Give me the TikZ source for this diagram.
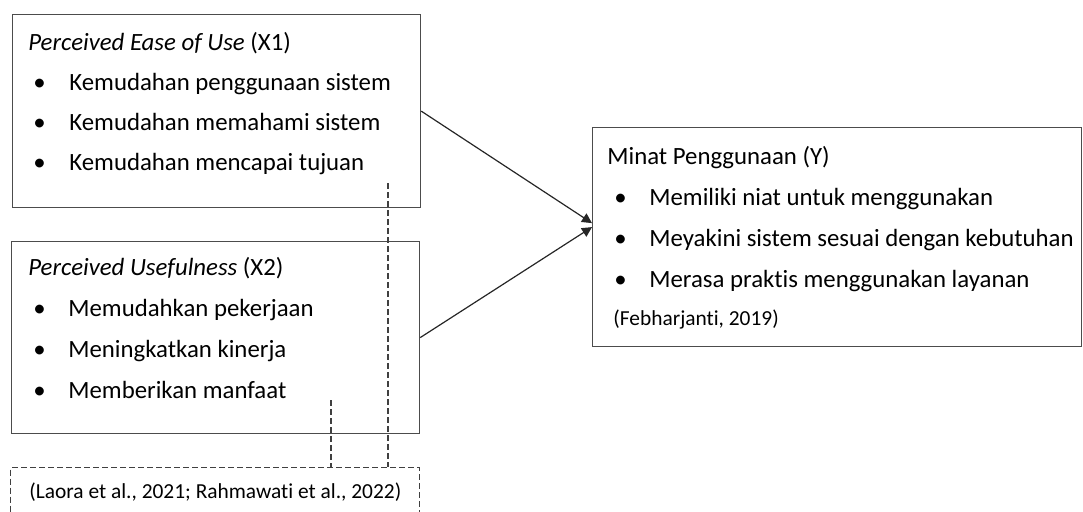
\documentclass[tikz,border=0pt]{standalone}
\usepackage{fontspec}
\setmainfont{Carlito}[Ligatures=NoCommon]
\usetikzlibrary{arrows.meta}
\begin{document}
\begin{tikzpicture}[x=0.5pt,y=-0.5pt,
	box/.style={draw=black!70,line width=0.6pt,inner sep=0pt,anchor=north west},
	txt/.style={anchor=base west,inner sep=0pt,font=\fontsize{12.4}{14}\selectfont},
	small/.style={anchor=base west,inner sep=0pt,font=\fontsize{10.7}{12}\selectfont},
	link/.style={black!75,line width=0.6pt,dash pattern=on 3pt off 1.5pt}]
	\path[use as bounding box] (0,0) rectangle (1083,511);
	\clip (0,0) rectangle (1083,511);

	\node[box,minimum width=204pt,minimum height=96.5pt] (peou) at (12,14) {};
	\node[box,minimum width=204pt,minimum height=96pt] (pu) at (11,241) {};
	\node[box,minimum width=244.5pt,minimum height=109.5pt] (minat) at (592,127) {};
	\node[box,link,minimum width=204.5pt,minimum height=40pt] (sumber) at (10,467) {};

	\node[txt] (peout) at (28,50) {\textit{Perceived Ease of Use} (X1)};
	\foreach \t [count=\i] in {Kemudahan penggunaan sistem,Kemudahan memahami sistem,Kemudahan mencapai tujuan}{
		\node[txt] at (33,50+40*\i) {•};
		\node[txt] (peou\i) at (69,50+40*\i) {\t};
	}

	\node[txt] (put) at (28,275) {\textit{Perceived Usefulness} (X2)};
	\foreach \t [count=\i] in {Memudahkan pekerjaan,Meningkatkan kinerja,Memberikan manfaat}{
		\node[txt] at (33,275+41*\i) {•};
		\node[txt] (pu\i) at (68,275+41*\i) {\t};
	}

	\node[txt] (minatt) at (607,164) {Minat Penggunaan (Y)};
	\foreach \t [count=\i] in {Memiliki niat untuk menggunakan,Meyakini sistem sesuai dengan kebutuhan,Merasa praktis menggunakan layanan}{
		\node[txt] at (614,164+41*\i) {•};
		\node[txt] (minat\i) at (649,164+41*\i) {\t};
	}
	\node[small] (feb) at (613,325) {(Febharjanti, 2019)};
	\node[small] (laora) at (29,498) {(Laora et al., 2021; Rahmawati et al., 2022)};

	\coordinate (in1) at ([yshift=7pt]minat.west);
	\coordinate (in2) at ([yshift=5pt]minat.west);
	\draw[-{Triangle[length=5pt,width=5pt]},black!85,line width=0.6pt] (peou.east) -- (in1);
	\draw[-{Triangle[length=5pt,width=5pt]},black!85,line width=0.6pt] (pu.east) -- (in2);

	\coordinate (d1) at (388,183);
	\coordinate (d2) at (331,400);
	\draw[link] (d1) -- (d1 |- sumber.north);
	\draw[link] (d2) -- (d2 |- sumber.north);
\end{tikzpicture}
\end{document}
